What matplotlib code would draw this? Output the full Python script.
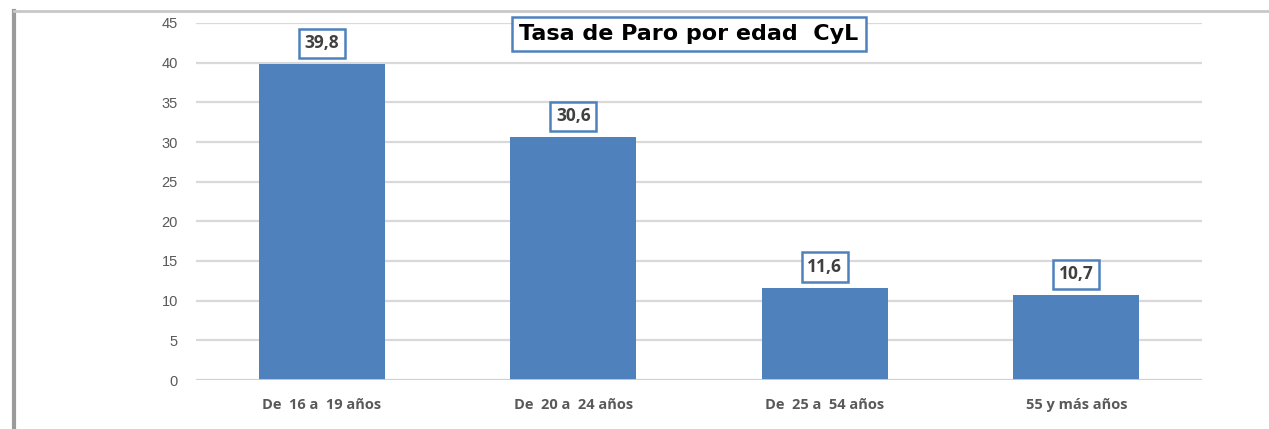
import matplotlib
matplotlib.use("Agg")
import matplotlib.pyplot as plt
from matplotlib.lines import Line2D

categories = ["De  16 a  19 años", "De  20 a  24 años", "De  25 a  54 años", "55 y más años"]
values = [39.8, 30.6, 11.6, 10.7]
value_labels = ["39,8", "30,6", "11,6", "10,7"]
yticks = [0, 5, 10, 15, 20, 25, 30, 35, 40, 45]
title = "Tasa de Paro por edad  CyL"

W, H = 1269, 429
fig = plt.figure(figsize=(W / 100, H / 100), dpi=100)
fig.patch.set_facecolor("white")

# outer frame with shadow
fig.add_artist(Line2D([14 / W, 14 / W], [0, 1 - 11 / H], color="#9a9a9a", lw=3, transform=fig.transFigure))
fig.add_artist(Line2D([14 / W, 1], [1 - 11 / H, 1 - 11 / H], color="#c8c8c8", lw=2, transform=fig.transFigure))

ax = fig.add_axes([196 / W, 1 - 380 / H, (1202 - 196) / W, (380 - 23) / H])
x = list(range(len(categories)))
ax.bar(x, values, width=0.5, color="#4f81bd", zorder=3)
ax.set_xlim(-0.5, len(categories) - 0.5)
ax.set_ylim(0, 45)
ax.set_yticks(yticks)
ax.set_yticklabels([str(t) for t in yticks], color="#595959", fontsize=10.5, fontfamily="Liberation Sans")
ax.set_xticks(x)
ax.set_xticklabels(categories, color="#595959", fontsize=10.5, fontweight="bold", fontfamily="Open Sans")
ax.tick_params(axis="both", length=0)
ax.tick_params(axis="y", pad=13)
ax.tick_params(axis="x", pad=13)
ax.grid(axis="y", color="#d9d9d9", lw=1.6, zorder=0)
for s in ax.spines.values():
    s.set_visible(False)
ax.axhline(0, color="#d0d0d0", lw=2, zorder=4)

for xi, v, lab in zip(x, values, value_labels):
    ax.annotate(lab, (xi, v), xytext=(0, 15), textcoords="offset points",
                ha="center", va="center", fontsize=12.5, fontweight="bold",
                fontfamily="Open Sans", color="#404040", zorder=5,
                bbox=dict(boxstyle="square,pad=0.33", fc="white", ec="#4f81bd", lw=1.8))

fig.text(689 / W, 1 - 34 / H, title, ha="center", va="center", fontsize=16,
         fontweight="bold", fontfamily="DejaVu Sans", color="black",
         bbox=dict(boxstyle="square,pad=0.33", fc="white", ec="#4f81bd", lw=1.8))

fig.savefig("out.png", dpi=100)
